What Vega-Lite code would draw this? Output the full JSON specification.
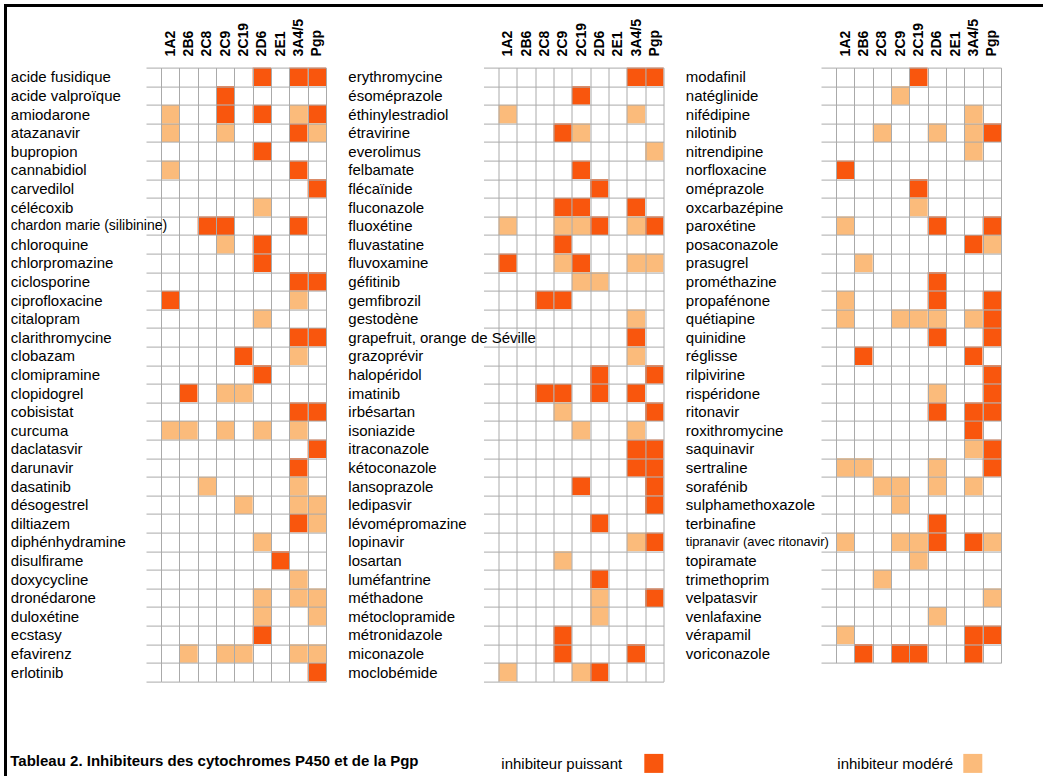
{
  "$schema": "https://vega.github.io/schema/vega-lite/v6.json",
  "padding": {"left": 4, "top": 4, "right": 0, "bottom": 0},
  "background": "white",
  "config": {
    "font": "Liberation Sans",
    "view": {"stroke": null},
    "axisX": {"labelAngle": -90, "labelAlign": "left", "labelBaseline": "middle", "labelFontSize": 14, "labelFontWeight": "bold", "labelPadding": 11.7, "ticks": false, "domain": false, "grid": true, "gridColor": "#aaaaaa", "gridOpacity": 1, "gridWidth": 1, "tickBand": "extent", "zindex": 1, "labelColor": "#000000"},
    "axisY": {"labelAlign": "left", "labelBaseline": "middle", "labelFontSize": 15, "labelPadding": 135.7, "ticks": true, "tickSize": 15, "tickColor": "#aaaaaa", "tickWidth": 1, "domain": false, "grid": true, "gridColor": "#aaaaaa", "gridOpacity": 1, "gridWidth": 1, "tickBand": "extent", "zindex": 1, "labelColor": "#000000", "labelLimit": 400}
  },
  "datasets": {
    "t": [
      {"p":1,"d":"acide fusidique","1A2":0,"2B6":0,"2C8":0,"2C9":0,"2C19":0,"2D6":2,"2E1":0,"3A4/5":2,"Pgp":2},
      {"p":1,"d":"acide valproïque","1A2":0,"2B6":0,"2C8":0,"2C9":2,"2C19":0,"2D6":0,"2E1":0,"3A4/5":0,"Pgp":0},
      {"p":1,"d":"amiodarone","1A2":1,"2B6":0,"2C8":0,"2C9":2,"2C19":0,"2D6":2,"2E1":0,"3A4/5":1,"Pgp":2},
      {"p":1,"d":"atazanavir","1A2":1,"2B6":0,"2C8":0,"2C9":1,"2C19":0,"2D6":0,"2E1":0,"3A4/5":2,"Pgp":1},
      {"p":1,"d":"bupropion","1A2":0,"2B6":0,"2C8":0,"2C9":0,"2C19":0,"2D6":2,"2E1":0,"3A4/5":0,"Pgp":0},
      {"p":1,"d":"cannabidiol","1A2":1,"2B6":0,"2C8":0,"2C9":0,"2C19":0,"2D6":0,"2E1":0,"3A4/5":2,"Pgp":0},
      {"p":1,"d":"carvedilol","1A2":0,"2B6":0,"2C8":0,"2C9":0,"2C19":0,"2D6":0,"2E1":0,"3A4/5":0,"Pgp":2},
      {"p":1,"d":"célécoxib","1A2":0,"2B6":0,"2C8":0,"2C9":0,"2C19":0,"2D6":1,"2E1":0,"3A4/5":0,"Pgp":0},
      {"p":1,"d":"chardon marie (silibinine)","1A2":0,"2B6":0,"2C8":2,"2C9":2,"2C19":0,"2D6":0,"2E1":0,"3A4/5":2,"Pgp":0},
      {"p":1,"d":"chloroquine","1A2":0,"2B6":0,"2C8":0,"2C9":1,"2C19":0,"2D6":2,"2E1":0,"3A4/5":0,"Pgp":0},
      {"p":1,"d":"chlorpromazine","1A2":0,"2B6":0,"2C8":0,"2C9":0,"2C19":0,"2D6":2,"2E1":0,"3A4/5":0,"Pgp":0},
      {"p":1,"d":"ciclosporine","1A2":0,"2B6":0,"2C8":0,"2C9":0,"2C19":0,"2D6":0,"2E1":0,"3A4/5":2,"Pgp":2},
      {"p":1,"d":"ciprofloxacine","1A2":2,"2B6":0,"2C8":0,"2C9":0,"2C19":0,"2D6":0,"2E1":0,"3A4/5":1,"Pgp":0},
      {"p":1,"d":"citalopram","1A2":0,"2B6":0,"2C8":0,"2C9":0,"2C19":0,"2D6":1,"2E1":0,"3A4/5":0,"Pgp":0},
      {"p":1,"d":"clarithromycine","1A2":0,"2B6":0,"2C8":0,"2C9":0,"2C19":0,"2D6":0,"2E1":0,"3A4/5":2,"Pgp":2},
      {"p":1,"d":"clobazam","1A2":0,"2B6":0,"2C8":0,"2C9":0,"2C19":2,"2D6":0,"2E1":0,"3A4/5":1,"Pgp":0},
      {"p":1,"d":"clomipramine","1A2":0,"2B6":0,"2C8":0,"2C9":0,"2C19":0,"2D6":2,"2E1":0,"3A4/5":0,"Pgp":0},
      {"p":1,"d":"clopidogrel","1A2":0,"2B6":2,"2C8":0,"2C9":1,"2C19":1,"2D6":0,"2E1":0,"3A4/5":0,"Pgp":0},
      {"p":1,"d":"cobisistat","1A2":0,"2B6":0,"2C8":0,"2C9":0,"2C19":0,"2D6":0,"2E1":0,"3A4/5":2,"Pgp":2},
      {"p":1,"d":"curcuma","1A2":1,"2B6":1,"2C8":0,"2C9":1,"2C19":0,"2D6":1,"2E1":0,"3A4/5":1,"Pgp":0},
      {"p":1,"d":"daclatasvir","1A2":0,"2B6":0,"2C8":0,"2C9":0,"2C19":0,"2D6":0,"2E1":0,"3A4/5":0,"Pgp":2},
      {"p":1,"d":"darunavir","1A2":0,"2B6":0,"2C8":0,"2C9":0,"2C19":0,"2D6":0,"2E1":0,"3A4/5":2,"Pgp":0},
      {"p":1,"d":"dasatinib","1A2":0,"2B6":0,"2C8":1,"2C9":0,"2C19":0,"2D6":0,"2E1":0,"3A4/5":1,"Pgp":0},
      {"p":1,"d":"désogestrel","1A2":0,"2B6":0,"2C8":0,"2C9":0,"2C19":1,"2D6":0,"2E1":0,"3A4/5":1,"Pgp":1},
      {"p":1,"d":"diltiazem","1A2":0,"2B6":0,"2C8":0,"2C9":0,"2C19":0,"2D6":0,"2E1":0,"3A4/5":2,"Pgp":1},
      {"p":1,"d":"diphénhydramine","1A2":0,"2B6":0,"2C8":0,"2C9":0,"2C19":0,"2D6":1,"2E1":0,"3A4/5":0,"Pgp":0},
      {"p":1,"d":"disulfirame","1A2":0,"2B6":0,"2C8":0,"2C9":0,"2C19":0,"2D6":0,"2E1":2,"3A4/5":0,"Pgp":0},
      {"p":1,"d":"doxycycline","1A2":0,"2B6":0,"2C8":0,"2C9":0,"2C19":0,"2D6":0,"2E1":0,"3A4/5":1,"Pgp":0},
      {"p":1,"d":"dronédarone","1A2":0,"2B6":0,"2C8":0,"2C9":0,"2C19":0,"2D6":1,"2E1":0,"3A4/5":1,"Pgp":1},
      {"p":1,"d":"duloxétine","1A2":0,"2B6":0,"2C8":0,"2C9":0,"2C19":0,"2D6":1,"2E1":0,"3A4/5":0,"Pgp":1},
      {"p":1,"d":"ecstasy","1A2":0,"2B6":0,"2C8":0,"2C9":0,"2C19":0,"2D6":2,"2E1":0,"3A4/5":0,"Pgp":0},
      {"p":1,"d":"efavirenz","1A2":0,"2B6":1,"2C8":0,"2C9":1,"2C19":1,"2D6":0,"2E1":0,"3A4/5":1,"Pgp":1},
      {"p":1,"d":"erlotinib","1A2":0,"2B6":0,"2C8":0,"2C9":0,"2C19":0,"2D6":0,"2E1":0,"3A4/5":0,"Pgp":2},
      {"p":2,"d":"erythromycine","1A2":0,"2B6":0,"2C8":0,"2C9":0,"2C19":0,"2D6":0,"2E1":0,"3A4/5":2,"Pgp":2},
      {"p":2,"d":"ésoméprazole","1A2":0,"2B6":0,"2C8":0,"2C9":0,"2C19":2,"2D6":0,"2E1":0,"3A4/5":0,"Pgp":0},
      {"p":2,"d":"éthinylestradiol","1A2":1,"2B6":0,"2C8":0,"2C9":0,"2C19":0,"2D6":0,"2E1":0,"3A4/5":1,"Pgp":0},
      {"p":2,"d":"étravirine","1A2":0,"2B6":0,"2C8":0,"2C9":2,"2C19":1,"2D6":0,"2E1":0,"3A4/5":0,"Pgp":0},
      {"p":2,"d":"everolimus","1A2":0,"2B6":0,"2C8":0,"2C9":0,"2C19":0,"2D6":0,"2E1":0,"3A4/5":0,"Pgp":1},
      {"p":2,"d":"felbamate","1A2":0,"2B6":0,"2C8":0,"2C9":0,"2C19":2,"2D6":0,"2E1":0,"3A4/5":0,"Pgp":0},
      {"p":2,"d":"flécaïnide","1A2":0,"2B6":0,"2C8":0,"2C9":0,"2C19":0,"2D6":2,"2E1":0,"3A4/5":0,"Pgp":0},
      {"p":2,"d":"fluconazole","1A2":0,"2B6":0,"2C8":0,"2C9":2,"2C19":2,"2D6":0,"2E1":0,"3A4/5":2,"Pgp":0},
      {"p":2,"d":"fluoxétine","1A2":1,"2B6":0,"2C8":0,"2C9":1,"2C19":1,"2D6":2,"2E1":0,"3A4/5":1,"Pgp":2},
      {"p":2,"d":"fluvastatine","1A2":0,"2B6":0,"2C8":0,"2C9":2,"2C19":0,"2D6":0,"2E1":0,"3A4/5":0,"Pgp":0},
      {"p":2,"d":"fluvoxamine","1A2":2,"2B6":0,"2C8":0,"2C9":1,"2C19":2,"2D6":0,"2E1":0,"3A4/5":1,"Pgp":1},
      {"p":2,"d":"géfitinib","1A2":0,"2B6":0,"2C8":0,"2C9":0,"2C19":1,"2D6":1,"2E1":0,"3A4/5":0,"Pgp":0},
      {"p":2,"d":"gemfibrozil","1A2":0,"2B6":0,"2C8":2,"2C9":2,"2C19":0,"2D6":0,"2E1":0,"3A4/5":0,"Pgp":0},
      {"p":2,"d":"gestodène","1A2":0,"2B6":0,"2C8":0,"2C9":0,"2C19":0,"2D6":0,"2E1":0,"3A4/5":1,"Pgp":0},
      {"p":2,"d":"grapefruit, orange de Séville","1A2":0,"2B6":0,"2C8":0,"2C9":0,"2C19":0,"2D6":0,"2E1":0,"3A4/5":2,"Pgp":0},
      {"p":2,"d":"grazoprévir","1A2":0,"2B6":0,"2C8":0,"2C9":0,"2C19":0,"2D6":0,"2E1":0,"3A4/5":1,"Pgp":0},
      {"p":2,"d":"halopéridol","1A2":0,"2B6":0,"2C8":0,"2C9":0,"2C19":0,"2D6":2,"2E1":0,"3A4/5":0,"Pgp":2},
      {"p":2,"d":"imatinib","1A2":0,"2B6":0,"2C8":2,"2C9":2,"2C19":0,"2D6":2,"2E1":0,"3A4/5":2,"Pgp":0},
      {"p":2,"d":"irbésartan","1A2":0,"2B6":0,"2C8":0,"2C9":1,"2C19":0,"2D6":0,"2E1":0,"3A4/5":0,"Pgp":2},
      {"p":2,"d":"isoniazide","1A2":0,"2B6":0,"2C8":0,"2C9":0,"2C19":1,"2D6":0,"2E1":0,"3A4/5":1,"Pgp":0},
      {"p":2,"d":"itraconazole","1A2":0,"2B6":0,"2C8":0,"2C9":0,"2C19":0,"2D6":0,"2E1":0,"3A4/5":2,"Pgp":2},
      {"p":2,"d":"kétoconazole","1A2":0,"2B6":0,"2C8":0,"2C9":0,"2C19":0,"2D6":0,"2E1":0,"3A4/5":2,"Pgp":2},
      {"p":2,"d":"lansoprazole","1A2":0,"2B6":0,"2C8":0,"2C9":0,"2C19":2,"2D6":0,"2E1":0,"3A4/5":0,"Pgp":2},
      {"p":2,"d":"ledipasvir","1A2":0,"2B6":0,"2C8":0,"2C9":0,"2C19":0,"2D6":0,"2E1":0,"3A4/5":0,"Pgp":2},
      {"p":2,"d":"lévomépromazine","1A2":0,"2B6":0,"2C8":0,"2C9":0,"2C19":0,"2D6":2,"2E1":0,"3A4/5":0,"Pgp":0},
      {"p":2,"d":"lopinavir","1A2":0,"2B6":0,"2C8":0,"2C9":0,"2C19":0,"2D6":0,"2E1":0,"3A4/5":1,"Pgp":2},
      {"p":2,"d":"losartan","1A2":0,"2B6":0,"2C8":0,"2C9":1,"2C19":0,"2D6":0,"2E1":0,"3A4/5":0,"Pgp":0},
      {"p":2,"d":"luméfantrine","1A2":0,"2B6":0,"2C8":0,"2C9":0,"2C19":0,"2D6":2,"2E1":0,"3A4/5":0,"Pgp":0},
      {"p":2,"d":"méthadone","1A2":0,"2B6":0,"2C8":0,"2C9":0,"2C19":0,"2D6":1,"2E1":0,"3A4/5":0,"Pgp":2},
      {"p":2,"d":"métoclopramide","1A2":0,"2B6":0,"2C8":0,"2C9":0,"2C19":0,"2D6":1,"2E1":0,"3A4/5":0,"Pgp":0},
      {"p":2,"d":"métronidazole","1A2":0,"2B6":0,"2C8":0,"2C9":2,"2C19":0,"2D6":0,"2E1":0,"3A4/5":0,"Pgp":0},
      {"p":2,"d":"miconazole","1A2":0,"2B6":0,"2C8":0,"2C9":2,"2C19":0,"2D6":0,"2E1":0,"3A4/5":2,"Pgp":0},
      {"p":2,"d":"moclobémide","1A2":1,"2B6":0,"2C8":0,"2C9":0,"2C19":1,"2D6":2,"2E1":0,"3A4/5":0,"Pgp":0},
      {"p":3,"d":"modafinil","1A2":0,"2B6":0,"2C8":0,"2C9":0,"2C19":2,"2D6":0,"2E1":0,"3A4/5":0,"Pgp":0},
      {"p":3,"d":"natéglinide","1A2":0,"2B6":0,"2C8":0,"2C9":1,"2C19":0,"2D6":0,"2E1":0,"3A4/5":0,"Pgp":0},
      {"p":3,"d":"nifédipine","1A2":0,"2B6":0,"2C8":0,"2C9":0,"2C19":0,"2D6":0,"2E1":0,"3A4/5":1,"Pgp":0},
      {"p":3,"d":"nilotinib","1A2":0,"2B6":0,"2C8":1,"2C9":0,"2C19":0,"2D6":1,"2E1":0,"3A4/5":1,"Pgp":2},
      {"p":3,"d":"nitrendipine","1A2":0,"2B6":0,"2C8":0,"2C9":0,"2C19":0,"2D6":0,"2E1":0,"3A4/5":1,"Pgp":0},
      {"p":3,"d":"norfloxacine","1A2":2,"2B6":0,"2C8":0,"2C9":0,"2C19":0,"2D6":0,"2E1":0,"3A4/5":0,"Pgp":0},
      {"p":3,"d":"oméprazole","1A2":0,"2B6":0,"2C8":0,"2C9":0,"2C19":2,"2D6":0,"2E1":0,"3A4/5":0,"Pgp":0},
      {"p":3,"d":"oxcarbazépine","1A2":0,"2B6":0,"2C8":0,"2C9":0,"2C19":1,"2D6":0,"2E1":0,"3A4/5":0,"Pgp":0},
      {"p":3,"d":"paroxétine","1A2":1,"2B6":0,"2C8":0,"2C9":0,"2C19":0,"2D6":2,"2E1":0,"3A4/5":0,"Pgp":2},
      {"p":3,"d":"posaconazole","1A2":0,"2B6":0,"2C8":0,"2C9":0,"2C19":0,"2D6":0,"2E1":0,"3A4/5":2,"Pgp":1},
      {"p":3,"d":"prasugrel","1A2":0,"2B6":1,"2C8":0,"2C9":0,"2C19":0,"2D6":0,"2E1":0,"3A4/5":0,"Pgp":0},
      {"p":3,"d":"prométhazine","1A2":0,"2B6":0,"2C8":0,"2C9":0,"2C19":0,"2D6":2,"2E1":0,"3A4/5":0,"Pgp":0},
      {"p":3,"d":"propafénone","1A2":1,"2B6":0,"2C8":0,"2C9":0,"2C19":0,"2D6":2,"2E1":0,"3A4/5":0,"Pgp":2},
      {"p":3,"d":"quétiapine","1A2":1,"2B6":0,"2C8":0,"2C9":1,"2C19":1,"2D6":1,"2E1":0,"3A4/5":1,"Pgp":2},
      {"p":3,"d":"quinidine","1A2":0,"2B6":0,"2C8":0,"2C9":0,"2C19":0,"2D6":2,"2E1":0,"3A4/5":0,"Pgp":2},
      {"p":3,"d":"réglisse","1A2":0,"2B6":2,"2C8":0,"2C9":0,"2C19":0,"2D6":0,"2E1":0,"3A4/5":2,"Pgp":0},
      {"p":3,"d":"rilpivirine","1A2":0,"2B6":0,"2C8":0,"2C9":0,"2C19":0,"2D6":0,"2E1":0,"3A4/5":0,"Pgp":2},
      {"p":3,"d":"rispéridone","1A2":0,"2B6":0,"2C8":0,"2C9":0,"2C19":0,"2D6":1,"2E1":0,"3A4/5":0,"Pgp":2},
      {"p":3,"d":"ritonavir","1A2":0,"2B6":0,"2C8":0,"2C9":0,"2C19":0,"2D6":2,"2E1":0,"3A4/5":2,"Pgp":2},
      {"p":3,"d":"roxithromycine","1A2":0,"2B6":0,"2C8":0,"2C9":0,"2C19":0,"2D6":0,"2E1":0,"3A4/5":2,"Pgp":0},
      {"p":3,"d":"saquinavir","1A2":0,"2B6":0,"2C8":0,"2C9":0,"2C19":0,"2D6":0,"2E1":0,"3A4/5":1,"Pgp":2},
      {"p":3,"d":"sertraline","1A2":1,"2B6":1,"2C8":0,"2C9":0,"2C19":0,"2D6":1,"2E1":0,"3A4/5":0,"Pgp":2},
      {"p":3,"d":"sorafénib","1A2":0,"2B6":0,"2C8":1,"2C9":1,"2C19":0,"2D6":1,"2E1":0,"3A4/5":1,"Pgp":0},
      {"p":3,"d":"sulphamethoxazole","1A2":0,"2B6":0,"2C8":0,"2C9":1,"2C19":0,"2D6":0,"2E1":0,"3A4/5":0,"Pgp":0},
      {"p":3,"d":"terbinafine","1A2":0,"2B6":0,"2C8":0,"2C9":0,"2C19":0,"2D6":2,"2E1":0,"3A4/5":0,"Pgp":0},
      {"p":3,"d":"tipranavir (avec ritonavir)","1A2":1,"2B6":0,"2C8":0,"2C9":1,"2C19":1,"2D6":2,"2E1":0,"3A4/5":2,"Pgp":1},
      {"p":3,"d":"topiramate","1A2":0,"2B6":0,"2C8":0,"2C9":0,"2C19":1,"2D6":0,"2E1":0,"3A4/5":0,"Pgp":0},
      {"p":3,"d":"trimethoprim","1A2":0,"2B6":0,"2C8":1,"2C9":0,"2C19":0,"2D6":0,"2E1":0,"3A4/5":0,"Pgp":0},
      {"p":3,"d":"velpatasvir","1A2":0,"2B6":0,"2C8":0,"2C9":0,"2C19":0,"2D6":0,"2E1":0,"3A4/5":0,"Pgp":1},
      {"p":3,"d":"venlafaxine","1A2":0,"2B6":0,"2C8":0,"2C9":0,"2C19":0,"2D6":1,"2E1":0,"3A4/5":0,"Pgp":0},
      {"p":3,"d":"vérapamil","1A2":1,"2B6":0,"2C8":0,"2C9":0,"2C19":0,"2D6":0,"2E1":0,"3A4/5":2,"Pgp":2},
      {"p":3,"d":"voriconazole","1A2":0,"2B6":2,"2C8":0,"2C9":2,"2C19":2,"2D6":0,"2E1":0,"3A4/5":2,"Pgp":0}
    ]
  },
  "spacing": 0,
  "hconcat": [
    {"width": 3, "height": 772, "view": {"fill": "#000000", "stroke": null}, "data": {"values": []}, "mark": "rect", "encoding": {}},
    {
      "spacing": 10.6,
      "vconcat": [
        {"width": 1036, "height": 3, "view": {"fill": "#000000", "stroke": null}, "data": {"values": []}, "mark": "rect", "encoding": {}},
        {
          "spacing": 2,
          "hconcat": [
            {"width": 1, "height": 1, "data": {"values": []}, "mark": "rect", "encoding": {}},
            {
              "bounds": "flush",
              "spacing": 172.5,
              "resolve": {"scale": {"color": "independent", "fill": "independent"}, "legend": {"color": "independent", "fill": "independent"}},
              "hconcat": [
                {
                  "width": 165, "height": {"step": 18.6},
                  "title": {"text": "Tableau 2. Inhibiteurs des cytochromes P450 et de la Pgp", "orient": "bottom", "anchor": "start", "frame": "bounds", "fontSize": 15, "fontWeight": "bold", "color": "#000000", "offset": 72, "baseline": "top"},
                  "data": {"name": "t"},
                  "transform": [{"filter": "datum.p == 1"}, {"fold": ["1A2","2B6","2C8","2C9","2C19","2D6","2E1","3A4/5","Pgp"], "as": ["e","v"]}],
                  "encoding": {
                    "x": {"field": "e", "type": "nominal", "title": null, "scale": {"domain": ["1A2","2B6","2C8","2C9","2C19","2D6","2E1","3A4/5","Pgp"], "paddingInner": 0, "paddingOuter": 0}, "axis": {"orient": "top", "grid": true, "tickBand": "extent", "zindex": 1}},
                    "y": {"field": "d", "type": "nominal", "title": null, "sort": null, "scale": {"paddingInner": 0, "paddingOuter": 0}, "axis": {"orient": "left", "grid": true, "tickBand": "extent", "zindex": 1, "labelFontSize": {"condition": {"test": "datum.value == 'chardon marie (silibinine)'", "value": 14}, "value": 15}}}
                  },
                  "layer": [
                    {"mark": {"type": "rect", "strokeWidth": 0}, "encoding": {"color": {"field": "v", "type": "nominal", "scale": {"domain": [2,1,0], "range": ["#F9560D","#ffffff","#ffffff"]}, "legend": null}}},
                    {"mark": {"type": "rect", "strokeWidth": 0}, "encoding": {"fill": {"field": "v", "type": "nominal", "scale": {"domain": [1,0,2], "range": ["#FBBB7B","transparent","transparent"]}, "legend": null}}}
                  ]
                },
                {
                  "width": 165, "height": {"step": 18.6},
                  "data": {"name": "t"},
                  "transform": [{"filter": "datum.p == 2"}, {"fold": ["1A2","2B6","2C8","2C9","2C19","2D6","2E1","3A4/5","Pgp"], "as": ["e","v"]}],
                  "encoding": {
                    "x": {"field": "e", "type": "nominal", "title": null, "scale": {"domain": ["1A2","2B6","2C8","2C9","2C19","2D6","2E1","3A4/5","Pgp"], "paddingInner": 0, "paddingOuter": 0}, "axis": {"orient": "top", "grid": true, "tickBand": "extent", "zindex": 1}},
                    "y": {"field": "d", "type": "nominal", "title": null, "sort": null, "scale": {"paddingInner": 0, "paddingOuter": 0}, "axis": {"orient": "left", "grid": true, "tickBand": "extent", "zindex": 1}}
                  },
                  "layer": [
                    {"mark": {"type": "rect", "strokeWidth": 0}, "encoding": {"color": {"field": "v", "type": "nominal", "scale": {"domain": [2,1,0], "range": ["#F9560D","#ffffff","#ffffff"]}, "legend": {"orient": "none", "legendX": 2.8, "legendY": 686.3, "title": "inhibiteur puissant", "titleOrient": "left", "titleFontSize": 15, "titleFontWeight": "normal", "titleColor": "#000000", "titlePadding": 22, "titleBaseline": "middle", "symbolType": "square", "symbolSize": 361, "symbolStrokeWidth": 0, "symbolOpacity": 1, "labelExpr": "''", "values": [2], "padding": 0}}}},
                    {"mark": {"type": "rect", "strokeWidth": 0}, "encoding": {"fill": {"field": "v", "type": "nominal", "scale": {"domain": [1,0,2], "range": ["#FBBB7B","transparent","transparent"]}, "legend": {"orient": "none", "legendX": 338.8, "legendY": 686.3, "title": "inhibiteur modéré", "titleOrient": "left", "titleFontSize": 15, "titleFontWeight": "normal", "titleColor": "#000000", "titlePadding": 10, "titleBaseline": "middle", "symbolType": "square", "symbolSize": 361, "symbolStrokeWidth": 0, "symbolOpacity": 1, "labelExpr": "''", "values": [1], "padding": 0}}}}
                  ]
                },
                {
                  "width": 165, "height": {"step": 18.6},
                  "data": {"name": "t"},
                  "transform": [{"filter": "datum.p == 3"}, {"fold": ["1A2","2B6","2C8","2C9","2C19","2D6","2E1","3A4/5","Pgp"], "as": ["e","v"]}],
                  "encoding": {
                    "x": {"field": "e", "type": "nominal", "title": null, "scale": {"domain": ["1A2","2B6","2C8","2C9","2C19","2D6","2E1","3A4/5","Pgp"], "paddingInner": 0, "paddingOuter": 0}, "axis": {"orient": "top", "grid": true, "tickBand": "extent", "zindex": 1}},
                    "y": {"field": "d", "type": "nominal", "title": null, "sort": null, "scale": {"paddingInner": 0, "paddingOuter": 0}, "axis": {"orient": "left", "grid": true, "tickBand": "extent", "zindex": 1, "labelFontSize": {"condition": {"test": "datum.value == 'tipranavir (avec ritonavir)'", "value": 13}, "value": 15}}}
                  },
                  "layer": [
                    {"mark": {"type": "rect", "strokeWidth": 0}, "encoding": {"color": {"field": "v", "type": "nominal", "scale": {"domain": [2,1,0], "range": ["#F9560D","#ffffff","#ffffff"]}, "legend": null}}},
                    {"mark": {"type": "rect", "strokeWidth": 0}, "encoding": {"fill": {"field": "v", "type": "nominal", "scale": {"domain": [1,0,2], "range": ["#FBBB7B","transparent","transparent"]}, "legend": null}}}
                  ]
                }
              ]
            }
          ]
        }
      ]
    }
  ]
}
